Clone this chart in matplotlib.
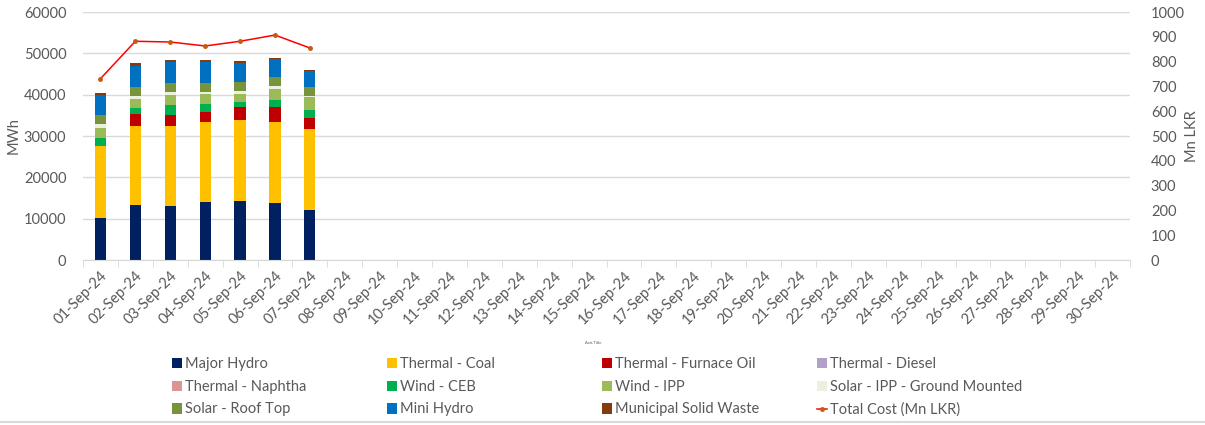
import numpy as np
import matplotlib.pyplot as plt
from matplotlib.lines import Line2D
from matplotlib.patches import Patch

plt.rcParams['font.family'] = ['Lato', 'DejaVu Sans']

# dates for the whole month, data only for the first week
dates = ["%02d-Sep-24" % d for d in range(1, 31)]

major_hydro = [10200, 13400, 13100, 14000, 14350, 13700, 12100]
thermal_coal = [17400, 18900, 19400, 19500, 19450, 19600, 19600]
thermal_furnace_oil = [0, 3100, 2600, 2400, 3300, 3600, 2600]
thermal_diesel = [0, 0, 0, 0, 0, 0, 0]
thermal_naphtha = [0, 0, 0, 0, 0, 0, 0]
wind_ceb = [2000, 1450, 2400, 1900, 1200, 1900, 2100]
wind_ipp = [2400, 2200, 2400, 2300, 1900, 2500, 3000]
solar_ipp_ground = [800, 700, 700, 500, 700, 700, 300]
solar_roof_top = [2200, 2100, 2200, 2200, 2200, 2300, 2100]
mini_hydro = [4800, 5200, 5200, 5200, 4600, 4300, 3900]
municipal_waste = [500, 500, 400, 400, 400, 300, 300]
total_cost = [731, 882, 879, 863, 882, 907, 855]

series = [
    ("Major Hydro", major_hydro, "#002060"),
    ("Thermal - Coal", thermal_coal, "#FFC000"),
    ("Thermal - Furnace Oil", thermal_furnace_oil, "#C00000"),
    ("Thermal - Diesel", thermal_diesel, "#B1A0C7"),
    ("Thermal - Naphtha", thermal_naphtha, "#DA9694"),
    ("Wind - CEB", wind_ceb, "#00B050"),
    ("Wind - IPP", wind_ipp, "#9BBB59"),
    ("Solar - IPP - Ground Mounted", solar_ipp_ground, "#EBF1DE"),
    ("Solar - Roof Top", solar_roof_top, "#77933C"),
    ("Mini Hydro", mini_hydro, "#0070C0"),
    ("Municipal Solid Waste", municipal_waste, "#843C0C"),
]

text_col = "#595959"
grid_col = "#D9D9D9"

fig = plt.figure(figsize=(12.05, 4.25), dpi=100)
ax = fig.add_axes([83 / 1205, 1 - 260 / 425, (1130 - 83) / 1205, (260 - 12) / 425])
ax2 = ax.twinx()

x = np.arange(len(major_hydro))
bottom = np.zeros(len(major_hydro))
handles = []
for name, vals, col in series:
    ax.bar(x, vals, width=0.32, bottom=bottom, color=col, linewidth=0)
    bottom += np.array(vals)
    handles.append(Patch(facecolor=col, label=name))

ax2.plot(x, total_cost, color="#FF0000", linewidth=1.1,
         marker="o", markersize=2.5, markerfacecolor="#C55A11", markeredgecolor="#C55A11")
handles.append(Line2D([0], [0], color="#FF0000", linewidth=1.1, marker="o", markersize=2.5,
                      markerfacecolor="#C55A11", markeredgecolor="#C55A11",
                      label="Total Cost (Mn LKR)"))

ax.set_xlim(-0.5, len(dates) - 0.5)
ax.set_ylim(0, 60000)
ax.set_yticks(np.arange(0, 60001, 10000))
ax2.set_ylim(0, 1000)
ax2.set_yticks(np.arange(0, 1001, 100))

ax.yaxis.grid(True, color=grid_col, linewidth=1)
ax.set_axisbelow(True)
for a in (ax, ax2):
    for s in a.spines.values():
        s.set_visible(False)
ax.spines["bottom"].set_visible(True)
ax.spines["bottom"].set_color(grid_col)

ax.set_xticks(x.tolist() + list(range(len(major_hydro), len(dates))))
ax.set_xticklabels(dates, rotation=45, ha="right", rotation_mode="anchor",
                   fontsize=10.5, color=text_col)
ax.tick_params(axis="x", length=0, pad=6)
ax.set_xticks(np.arange(-0.5, len(dates)), minor=True)
ax.tick_params(axis="x", which="minor", length=5, color=grid_col)
ax.tick_params(axis="y", length=0, labelsize=10.5, labelcolor=text_col, pad=12)
ax2.tick_params(axis="y", length=0, labelsize=10.5, labelcolor=text_col, pad=15)

# axis titles placed in figure pixels so they stay inside the canvas
fig.text(14 / 1205, 1 - 136 / 425, "MWh", rotation=90, fontsize=10.5, color=text_col,
         ha="center", va="center")
fig.text(1192 / 1205, 1 - 136 / 425, "Mn LKR", rotation=90, fontsize=10.5, color=text_col,
         ha="center", va="center")

fig.text(593 / 1205, 1 - 344 / 425, "Axis Title", fontsize=3, color=text_col, ha="center")

# legend: 4 columns, row-major order like the original
col_x = [172, 387, 602, 817]
for c in range(4):
    hs = [handles[r * 4 + c] for r in range(3)]
    fig.legend(handles=hs, loc="upper left",
               bbox_to_anchor=(col_x[c] / 1205, 1 - 357 / 425),
               frameon=False, fontsize=10.5, labelcolor=text_col,
               handlelength=0.7, handleheight=0.7, handletextpad=0.2,
               labelspacing=0.6, borderpad=0, borderaxespad=0)

fig.add_artist(Line2D([0, 1], [1 - 422 / 425] * 2, color=grid_col, linewidth=1.5))

fig.savefig("out.png", dpi=100)
